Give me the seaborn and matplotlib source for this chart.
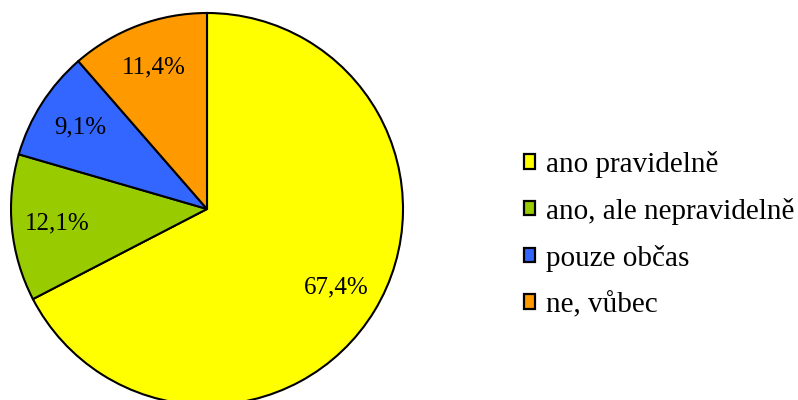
import matplotlib
matplotlib.use("Agg")
import matplotlib.pyplot as plt
from matplotlib.patches import Patch
import seaborn as sns

# data
kategorie = ["ano pravidelně", "ano, ale nepravidelně", "pouze občas", "ne, vůbec"]
hodnoty = [67.4, 12.1, 9.1, 11.4]
barvy = ["#FFFF00", "#99CC00", "#3366FF", "#FF9900"]

sns.set_style("white")
plt.rcParams['font.family'] = ['Liberation Serif', 'DejaVu Serif']
plt.rcParams['text.color'] = 'black'

fig = plt.figure(figsize=(7.98, 4.0), dpi=100)
# pie axes, square in pixels
ax = fig.add_axes([11 / 798, -5 / 400, 392 / 798, 392 / 400])

wedges, texty, pct = ax.pie(
    hodnoty,
    colors=barvy,
    startangle=90,
    counterclock=False,
    autopct=lambda p: f"{p:.1f}%".replace(".", ","),
    pctdistance=0.77,
    wedgeprops=dict(edgecolor="black", linewidth=1.5),
    textprops=dict(fontsize=18, color="black"),
)
ax.set_xlim(-1.0, 1.0)
ax.set_ylim(-1.0, 1.0)
ax.set_axis_off()

# legenda
ruc = [Patch(facecolor=b, edgecolor="black", linewidth=1.6) for b in barvy]
fig.legend(
    ruc, kategorie,
    loc="center left",
    bbox_to_anchor=(524 / 798, 0.414),
    frameon=False,
    fontsize=21,
    labelcolor="black",
    handlelength=0.38,
    handleheight=0.38,
    handletextpad=0.38,
    labelspacing=0.68,
    borderpad=0,
    borderaxespad=0,
)

fig.savefig("out.png", dpi=100)
